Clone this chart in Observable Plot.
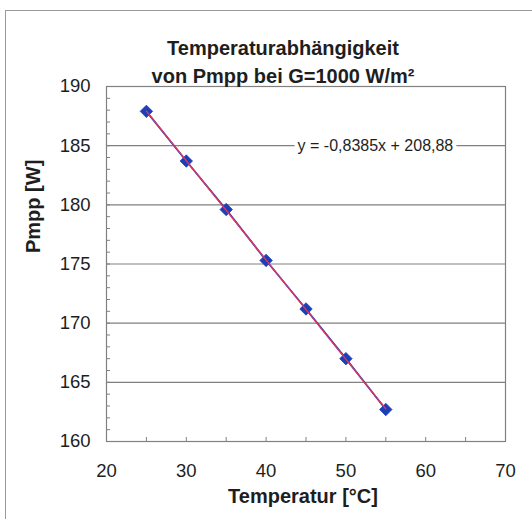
<!DOCTYPE html>
<html><head><meta charset="utf-8">
<script src="https://cdn.jsdelivr.net/npm/d3@7"></script>
<script src="https://cdn.jsdelivr.net/npm/@observablehq/plot@0.6"></script>
<style>
body{margin:0;background:#fff;}
#wrap{position:relative;width:532px;height:519px;overflow:hidden;background:#fff;}
#outer{position:absolute;left:5px;top:10px;width:600px;height:600px;border-left:1.5px solid #9a9a9a;border-top:1.5px solid #9a9a9a;}
#chart{position:absolute;left:0;top:0;}
</style></head><body>
<div id="wrap"><div id="outer"></div><div id="chart"></div></div>
<script>
const temperatures = [25, 30, 35, 40, 45, 50, 55];
const pmpp = [187.9, 183.7, 179.6, 175.3, 171.2, 167.0, 162.7];
const xTicks = [20, 30, 40, 50, 60, 70];
const xMinorTicks = [25, 30, 35, 40, 45, 50, 55, 60, 65];
const yTicks = [160, 165, 170, 175, 180, 185, 190];
const yMinorTicks = [161,162,163,164,165,166,167,168,169,170,171,172,173,174,175,176,177,178,179,180,181,182,183,184,185,186,187,188,189];
const gridLines = [165, 170, 175, 180, 185];
const titleLines = ["Temperaturabhängigkeit", "von Pmpp bei G=1000 W/m²"];
const xLabel = "Temperatur [°C]";
const yLabel = "Pmpp [W]";
const equation = "y = -0,8385x + 208,88";

const data = temperatures.map((t, i) => ({t, p: pmpp[i]}));

const W = 532, H = 519, mL = 106, mR = 27, mT = 86, mB = 78;
const pw = W - mL - mR, ph = H - mT - mB;
const textColor = "#1e1e1e";
const gridColor = "#808080";

const chart = Plot.plot({
  width: W, height: H,
  marginLeft: mL, marginRight: mR, marginTop: mT, marginBottom: mB,
  style: {fontFamily: "'Liberation Sans', Arial, sans-serif", color: textColor, background: "transparent"},
  x: {domain: [20, 70]},
  y: {domain: [160, 190]},
  marks: [
    Plot.ruleY(gridLines, {stroke: gridColor, strokeWidth: 1.2}),
    Plot.tickY(yMinorTicks, {y: d => d, stroke: gridColor, insetRight: pw - 4}),
    Plot.tickX(xMinorTicks, {x: d => d, stroke: gridColor, insetTop: ph - 4}),
    Plot.frame({stroke: gridColor, strokeWidth: 1.2}),
    Plot.axisY({ticks: yTicks, tickSize: 0, tickPadding: 16, fontSize: 18.5, label: null, tickFormat: d => String(d)}),
    Plot.axisX({ticks: xTicks, tickSize: 0, tickPadding: 22, fontSize: 18.5, label: null, tickFormat: d => String(d)}),
    Plot.text([equation], {x: 53.7, y: 185, fontSize: 16, fill: textColor, stroke: "white", strokeWidth: 8, paintOrder: "stroke"}),
    Plot.line(data, {x: "t", y: "p", stroke: "#2340b8", strokeWidth: 1.8}),
    Plot.dot(data, {x: "t", y: "p", symbol: "diamond2", r: 5.6, fill: "#1c3fb8", stroke: "#1c3fb8", strokeWidth: 0.8}),
    Plot.linearRegressionY(data, {x: "t", y: "p", stroke: "#e8345c", strokeWidth: 1.3, ci: 0}),
    Plot.text([titleLines.join("\n")], {frameAnchor: "top", lineAnchor: "top", dx: -23, dy: -51, lineHeight: 1.4, fontSize: 20, fontWeight: "bold", fill: textColor}),
    Plot.text([xLabel], {frameAnchor: "bottom", lineAnchor: "top", dx: -3, dy: 47, fontSize: 20, fontWeight: "bold", fill: textColor}),
    Plot.text([yLabel], {frameAnchor: "left", rotate: -90, dx: -73, dy: -11, fontSize: 20, fontWeight: "bold", fill: textColor})
  ]
});
document.getElementById("chart").appendChild(chart);
</script>
</body></html>
